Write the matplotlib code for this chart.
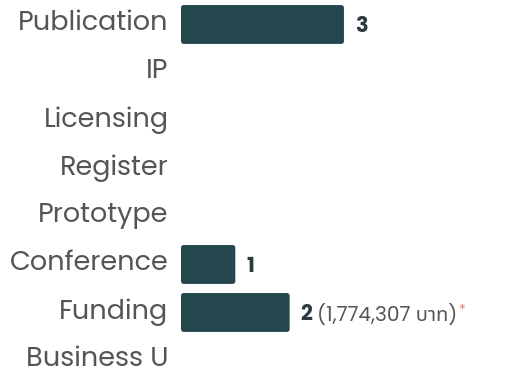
import matplotlib
matplotlib.use("Agg")
import matplotlib.pyplot as plt
from matplotlib.patches import FancyBboxPatch
from matplotlib.transforms import ScaledTranslation

# output counts per category
categories = ["Publication", "IP", "Licensing", "Register", "Prototype",
              "Conference", "Funding", "Business U"]
counts = [3, 0, 0, 0, 0, 1, 2, 0]
funding_note = "(1,774,307 บาท)"

BAR = "#23474d"
LABEL = "#555555"
VALUE = "#2b3b3e"
STAR = "#e8776f"
LATIN = ["Poppins", "Lato", "DejaVu Sans"]
MIXED = ["Poppins", "Noto Sans Thai", "DejaVu Sans"]

fig = plt.figure(figsize=(5.08, 3.72), dpi=100)
ax = fig.add_axes([181 / 508, 0, 327 / 508, 1])

y = list(range(len(categories)))
bars = ax.barh(y, counts, height=0.81, color=BAR)
ax.set_xlim(0, 6.02)
ax.set_ylim(7.24, -0.51)

# swap the plain rectangles for slightly rounded ones
for b in bars:
    b.set_visible(False)
    if b.get_width() == 0:
        continue
    r = FancyBboxPatch((b.get_x(), b.get_y()), b.get_width(), b.get_height(),
                       boxstyle="round,pad=0,rounding_size=0.05",
                       mutation_aspect=1.15, facecolor=BAR, edgecolor="none")
    ax.add_patch(r)

ax.set_yticks(y)
ax.set_yticklabels(categories, family=LATIN, fontsize=19.5, color=LABEL)
ax.tick_params(axis="y", length=0, pad=9)
lift = ScaledTranslation(0, 4 / 100, fig.dpi_scale_trans)
for lbl in ax.get_yticklabels():
    lbl.set_transform(lbl.get_transform() + lift)
ax.set_xticks([])
for s in ax.spines.values():
    s.set_visible(False)

for i, v in enumerate(counts):
    if v == 0:
        continue
    t = ax.annotate(str(v), xy=(v, i), xytext=(8, -2), textcoords="offset points",
                    va="center", ha="left", family=LATIN, fontsize=15,
                    fontweight="bold", color=VALUE)
    if categories[i] == "Funding":
        note = ax.annotate(funding_note, xy=(1, 0), xycoords=t, xytext=(3, 0.5),
                           textcoords="offset points", va="bottom", ha="left",
                           family=MIXED, fontsize=14.5, color=LABEL)
        ax.annotate("*", xy=(1, 1), xycoords=note, xytext=(0.5, 0),
                    textcoords="offset points", va="top", ha="left",
                    family=LATIN, fontsize=10, color=STAR)

fig.savefig("out.png")
